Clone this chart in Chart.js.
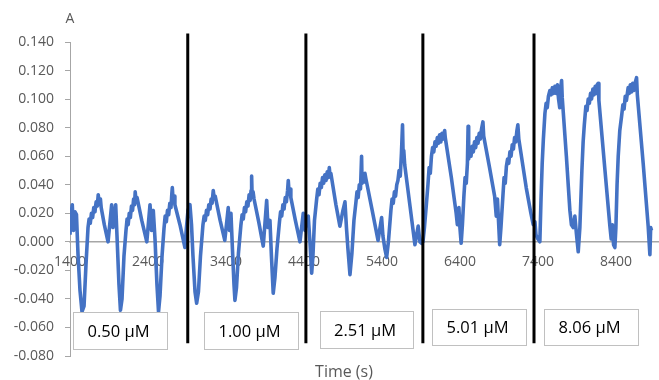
<!DOCTYPE html>
<html>
<head>
<meta charset="utf-8">
<script src="https://cdn.jsdelivr.net/npm/chart.js@4"></script>
<style>
html,body{margin:0;padding:0;background:#fff}
</style>
</head>
<body>
<canvas id="c" width="659" height="380"></canvas>
<script>
// absorbance trace, [time (s), A], one array per concentration step
const run050 = [[1400,0.005],[1413,0.019],[1429,0.026],[1445,0.008],[1464,0.021],[1483,0.019],[1503,-0.009],[1528,-0.034],[1554,-0.049],[1580,-0.045],[1605,-0.016],[1631,0.010],[1645,0.016],[1660,0.013],[1675,0.020],[1690,0.017],[1705,0.024],[1720,0.021],[1735,0.028],[1750,0.025],[1762,0.033],[1775,0.027],[1790,0.030],[1800,0.024],[1840,0.012],[1888,0.000],[1934,0.026],[1951,0.010],[1986,0.026],[2002,0.005],[2028,-0.030],[2047,-0.048],[2067,-0.040],[2092,-0.010],[2118,0.008],[2132,0.016],[2146,0.012],[2160,0.020],[2174,0.017],[2188,0.025],[2202,0.022],[2216,0.030],[2228,0.026],[2236,0.035],[2248,0.028],[2260,0.031],[2320,0.015],[2385,0.000],[2426,0.026],[2445,0.008],[2468,0.022],[2490,0.002],[2515,-0.030],[2535,-0.049],[2554,-0.038],[2580,-0.010],[2605,0.009],[2620,0.018],[2635,0.014],[2650,0.022],[2665,0.019],[2680,0.027],[2695,0.024],[2705,0.033],[2712,0.038],[2722,0.029],[2735,0.032],[2745,0.026],[2810,0.012],[2874,-0.004]];
const run100 = [[2893,0.010],[2913,0.022],[2938,0.026],[2958,0.012],[2977,-0.010],[3003,-0.035],[3024,-0.043],[3047,-0.035],[3073,-0.010],[3105,0.012],[3120,0.018],[3135,0.015],[3150,0.022],[3165,0.019],[3180,0.026],[3195,0.023],[3210,0.030],[3222,0.027],[3237,0.036],[3250,0.030],[3262,0.032],[3325,0.015],[3385,0.001],[3429,0.024],[3445,0.008],[3464,0.020],[3483,-0.005],[3503,-0.030],[3515,-0.041],[3535,-0.032],[3560,-0.008],[3592,0.012],[3607,0.019],[3622,0.016],[3637,0.024],[3652,0.021],[3667,0.028],[3682,0.025],[3697,0.033],[3710,0.029],[3722,0.036],[3729,0.046],[3736,0.031],[3748,0.035],[3760,0.030],[3820,0.014],[3878,-0.003],[3922,0.029],[3939,0.010],[3964,0.015],[3983,-0.010],[4006,-0.036],[4028,-0.025],[4054,-0.005],[4086,0.014],[4100,0.021],[4115,0.018],[4130,0.026],[4145,0.023],[4160,0.031],[4175,0.028],[4190,0.036],[4199,0.043],[4210,0.034],[4222,0.037],[4232,0.031],[4290,0.015],[4349,0.000],[4391,0.020],[4413,0.008],[4432,0.017],[4455,0.018]];
const run251 = [[4477,0.000],[4499,-0.022],[4515,-0.010],[4535,0.015],[4563,0.030],[4578,0.037],[4593,0.033],[4608,0.041],[4623,0.038],[4638,0.045],[4653,0.041],[4668,0.047],[4683,0.043],[4698,0.049],[4713,0.045],[4725,0.052],[4735,0.046],[4745,0.048],[4810,0.026],[4861,0.011],[4900,0.022],[4926,0.028],[4945,0.010],[4964,-0.005],[4990,-0.023],[5015,-0.008],[5041,0.015],[5067,0.028],[5080,0.035],[5095,0.031],[5110,0.040],[5125,0.037],[5139,0.060],[5145,0.041],[5158,0.046],[5170,0.042],[5182,0.048],[5195,0.044],[5275,0.022],[5350,0.001],[5396,0.017],[5413,0.004],[5438,-0.005],[5460,-0.011],[5483,0.000],[5515,0.022],[5530,0.030],[5545,0.027],[5560,0.035],[5575,0.032],[5590,0.040],[5605,0.043],[5620,0.050],[5635,0.046],[5650,0.062],[5664,0.082],[5672,0.060],[5680,0.064],[5692,0.054],[5760,0.025],[5823,-0.002],[5865,0.011],[5887,0.000],[5909,-0.001]];
const run501 = [[5926,0.000],[5945,0.010],[5968,0.025],[5990,0.040],[6005,0.052],[6020,0.048],[6035,0.060],[6050,0.066],[6065,0.063],[6080,0.070],[6095,0.067],[6110,0.073],[6125,0.069],[6140,0.075],[6155,0.070],[6170,0.076],[6185,0.072],[6204,0.078],[6212,0.073],[6290,0.045],[6352,0.020],[6367,0.012],[6387,0.024],[6400,0.010],[6416,-0.001],[6432,0.012],[6451,0.032],[6466,0.045],[6481,0.041],[6496,0.055],[6505,0.081],[6512,0.058],[6527,0.064],[6542,0.060],[6557,0.067],[6572,0.063],[6587,0.070],[6602,0.066],[6617,0.073],[6632,0.069],[6647,0.076],[6662,0.072],[6677,0.079],[6695,0.084],[6705,0.074],[6780,0.052],[6845,0.032],[6866,0.018],[6881,0.030],[6910,-0.002],[6926,0.010],[6951,0.032],[6966,0.045],[6981,0.041],[6996,0.053],[7011,0.058],[7026,0.055],[7041,0.063],[7056,0.060],[7071,0.068],[7086,0.065],[7101,0.073],[7116,0.070],[7131,0.078],[7143,0.082],[7155,0.072],[7250,0.038],[7310,0.020],[7340,0.012]];
const run806 = [[7362,0.014],[7375,0.005],[7400,0.002],[7425,0.000],[7440,0.030],[7455,0.055],[7470,0.072],[7490,0.090],[7505,0.097],[7520,0.094],[7535,0.102],[7554,0.106],[7570,0.103],[7585,0.108],[7600,0.104],[7618,0.109],[7635,0.104],[7650,0.110],[7665,0.100],[7680,0.094],[7692,0.108],[7704,0.113],[7712,0.101],[7765,0.060],[7810,0.022],[7830,0.012],[7853,0.010],[7874,0.018],[7895,0.005],[7917,-0.007],[7938,0.010],[7964,0.050],[7980,0.070],[7995,0.082],[8015,0.095],[8030,0.092],[8045,0.100],[8060,0.097],[8075,0.104],[8088,0.100],[8105,0.107],[8120,0.103],[8135,0.109],[8150,0.104],[8160,0.110],[8173,0.111],[8182,0.099],[8260,0.050],[8323,0.011],[8340,0.002],[8355,0.012],[8370,-0.002],[8387,-0.004],[8400,0.010],[8415,0.040],[8430,0.060],[8450,0.078],[8473,0.088],[8490,0.096],[8505,0.093],[8520,0.102],[8535,0.099],[8557,0.108],[8570,0.104],[8585,0.110],[8600,0.105],[8615,0.111],[8630,0.106],[8650,0.112],[8665,0.115],[8675,0.103],[8750,0.055],[8814,0.011],[8836,-0.009],[8846,0.010],[8857,0.008]];

// times where the concentration was stepped up
const stepTimes = [2910, 4425, 5925, 7350];
const concLabels = ['0.50 μM', '1.00 μM', '2.51 μM', '5.01 μM', '8.06 μM'];

// axis ticks
const xTicks = [1400, 2400, 3400, 4400, 5400, 6400, 7400, 8400];
const yTicks = [-0.08, -0.06, -0.04, -0.02, 0, 0.02, 0.04, 0.06, 0.08, 0.10, 0.12, 0.14];

// where things sit (data units)
const stepLineTop = 0.146, stepLineBottom = -0.071;
const boxT = [[1438, 2644], [3118, 4323], [4605, 5797], [6041, 7246], [7477, 8682]];
const boxA = [[-0.0494, -0.0748], [-0.0494, -0.0748], [-0.0487, -0.0741], [-0.0473, -0.0726], [-0.0473, -0.0726]];

const FONT = '"Open Sans", "Liberation Sans", sans-serif';
const GREY = '#595959';

const trace = [...run050, ...run100, ...run251, ...run501, ...run806].map(p => ({ x: p[0], y: p[1] }));

const stepSets = stepTimes.map(t => ({
  data: [{ x: t, y: stepLineTop }, { x: t, y: stepLineBottom }],
  showLine: true, borderColor: '#000', borderWidth: 3, pointRadius: 0, clip: false, order: 0
}));

const notes = {
  id: 'notes',
  afterDatasetsDraw(chart) {
    const { ctx, scales: { x, y }, chartArea } = chart;
    ctx.save();
    concLabels.forEach((txt, i) => {
      const x0 = Math.round(x.getPixelForValue(boxT[i][0])) + 0.5;
      const x1 = Math.round(x.getPixelForValue(boxT[i][1])) + 0.5;
      const y0 = Math.round(y.getPixelForValue(boxA[i][0])) + 0.5;
      const y1 = Math.round(y.getPixelForValue(boxA[i][1])) + 0.5;
      ctx.fillStyle = '#fff';
      ctx.fillRect(x0, y0, x1 - x0, y1 - y0);
      ctx.strokeStyle = '#c0c0c0';
      ctx.lineWidth = 1;
      ctx.strokeRect(x0, y0, x1 - x0, y1 - y0);
      ctx.fillStyle = '#000';
      ctx.font = '16.5px ' + FONT;
      ctx.textAlign = 'center';
      ctx.textBaseline = 'middle';
      ctx.fillText(txt, (x0 + x1) / 2 - 2, (y0 + y1) / 2 + 1);
    });
    ctx.fillStyle = GREY;
    ctx.textAlign = 'center';
    ctx.textBaseline = 'middle';
    ctx.font = '14px ' + FONT;
    ctx.fillText('A', chartArea.left, 19);
    ctx.font = '16px ' + FONT;
    ctx.fillText('Time (s)', 344, 372);
    ctx.restore();
  }
};

new Chart(document.getElementById('c'), {
  type: 'scatter',
  data: {
    datasets: [...stepSets, {
      data: trace, showLine: true, borderColor: '#4472C4', borderWidth: 3.6,
      borderJoinStyle: 'round', pointRadius: 0, tension: 0, order: 1
    }]
  },
  options: {
    responsive: false,
    animation: false,
    events: [],
    layout: { padding: { top: 42, bottom: 24, left: 0, right: 1 } },
    plugins: { legend: { display: false }, tooltip: { enabled: false } },
    scales: {
      x: {
        type: 'linear',
        position: { y: 0 },
        min: 1400, max: 8940,
        afterBuildTicks: s => { s.ticks = xTicks.map(v => ({ value: v })); },
        ticks: { color: GREY, font: { size: 14, family: FONT }, padding: 12, maxRotation: 0, autoSkip: false, callback: v => String(v) },
        grid: { display: false, drawTicks: false },
        border: { color: '#a6a6a6', width: 1.5 }
      },
      y: {
        min: -0.08, max: 0.14,
        afterBuildTicks: s => { s.ticks = yTicks.map(v => ({ value: v })); },
        afterFit: s => { s.width = 70; },
        ticks: { color: GREY, font: { size: 14, family: FONT }, padding: 11, callback: v => v.toFixed(3) },
        grid: { drawOnChartArea: false, drawTicks: true, tickLength: 5, color: '#a6a6a6' },
        border: { color: '#a6a6a6', width: 1 }
      }
    }
  },
  plugins: [notes]
});
</script>
</body>
</html>
